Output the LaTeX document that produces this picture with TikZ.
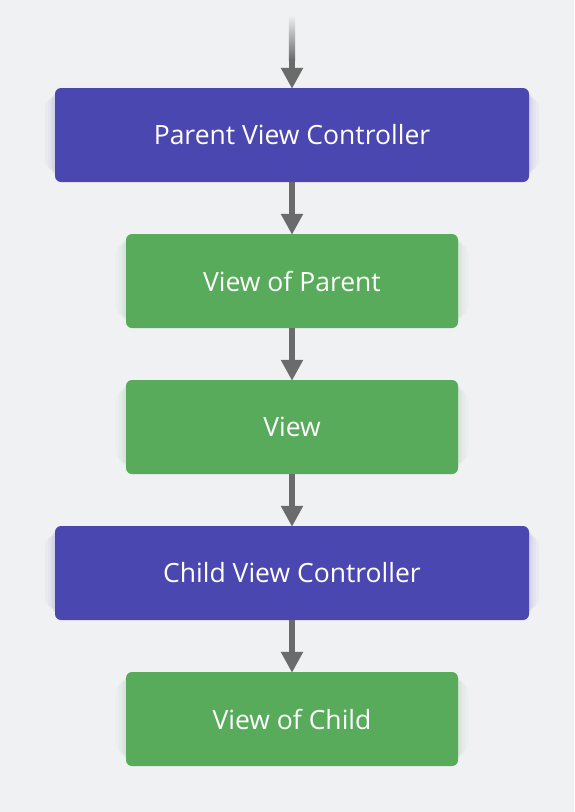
\documentclass[tikz,border=0pt]{standalone}
\usepackage{fontspec}
\setmainfont{Open Sans}
\usetikzlibrary{arrows.meta}
\definecolor{bg}{HTML}{F0F1F3}
\definecolor{vc}{HTML}{4B47B0}
\definecolor{vw}{HTML}{57AB5A}
\definecolor{ar}{HTML}{6B6B6B}
\pgfdeclarelayer{bglayer}
\pgfdeclarelayer{glowlayer}
\pgfsetlayers{bglayer,glowlayer,main}
\tikzset{
  box/.style={rounded corners=6pt, minimum height=94pt, text=white, font=\fontsize{26.5}{30}\selectfont, inner sep=0pt},
  vcbox/.style={box, fill=vc, minimum width=474pt},
  vwbox/.style={box, fill=vw, minimum width=332pt},
  arr/.style={draw=ar, line width=6pt, -{Triangle[width=21pt,length=21pt]}, shorten >=-1pt},
}
\newcommand{\glowbox}[2]{%
  \foreach \s/\o in {10/0.03,7/0.04,4/0.05,2/0.06}{
    \fill[#2, opacity=\o, rounded corners=10pt] ([shift={(-\s pt,-\s pt)}]#1.north west) rectangle ([shift={(\s pt,\s pt+2pt)}]#1.south east);
  }}
\begin{document}
\begin{tikzpicture}[x=1pt,y=-1pt]
\node[vcbox] (pvc) at (292,135) {Parent View Controller};
\node[vwbox] (vop) at (292,281) {View of Parent};
\node[vwbox] (v) at (292,427) {View};
\node[vcbox] (cvc) at (292,573) {Child View Controller};
\node[vwbox] (voc) at (292,719) {View of Child};
\begin{pgfonlayer}{bglayer}
\fill[bg] (0,0) rectangle (574,812);
\end{pgfonlayer}
\begin{pgfonlayer}{glowlayer}
\glowbox{pvc}{vc}
\glowbox{vop}{vw}
\glowbox{v}{vw}
\glowbox{cvc}{vc}
\glowbox{voc}{vw}
\end{pgfonlayer}
\useasboundingbox (0,0) rectangle (574,812);
\coordinate (top) at (292,16);
\draw[arr] (top) -- (pvc.north);
\shade[top color=bg, bottom color=ar] (288.8,15) rectangle (295.2,60);
\draw[arr] (pvc.south) -- (vop.north);
\draw[arr] (vop.south) -- (v.north);
\draw[arr] (v.south) -- (cvc.north);
\draw[arr] (cvc.south) -- (voc.north);
\end{tikzpicture}
\end{document}
